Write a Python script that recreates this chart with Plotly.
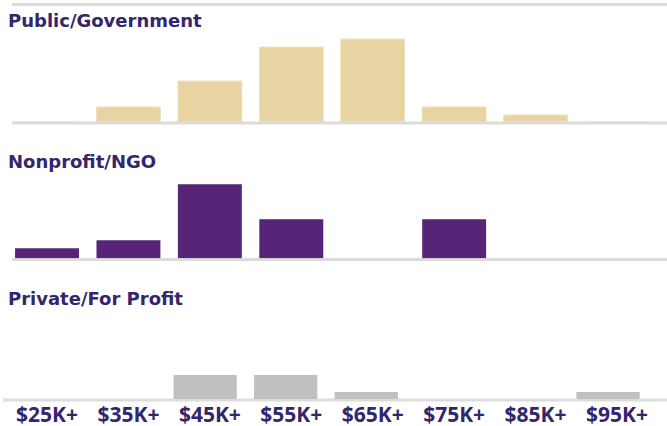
import plotly.graph_objects as go

categories = ["$25K+", "$35K+", "$45K+", "$55K+", "$65K+", "$75K+", "$85K+", "$95K+"]
public_gov = [0, 15, 41, 75, 83, 15, 7, 0]
nonprofit = [10, 18, 74, 39, 0, 39, 0, 0]
private = [0, 0, 24, 24, 7, 0, 0, 7]
panel_titles = ["Public/Government", "Nonprofit/NGO", "Private/For Profit"]

W, H = 667, 426
def py(p):
    return 1 - p / H

GOLD = "#e8d4a2"
PURPLE = "#562578"
GRAY = "#c0c0c0"
LINE = "#dcdcdc"
TEXT = "#33266b"
TITLE_FONT = "DejaVu Sans"
TICK_FONT = "Open Sans"

fig = go.Figure()
fig.add_bar(x=categories, y=public_gov, marker=dict(color=GOLD, line=dict(color="#f0e2bd", width=1)),
            xaxis="x", yaxis="y", hoverinfo="skip")
fig.add_bar(x=categories, y=nonprofit, marker=dict(color=PURPLE, line=dict(width=0)),
            xaxis="x2", yaxis="y2", hoverinfo="skip")
fig.add_bar(x=categories, y=private, marker=dict(color=GRAY, line=dict(width=0)),
            xaxis="x3", yaxis="y3", hoverinfo="skip")
# invisible trace carrying the category tick labels
fig.add_scatter(x=categories, y=[None] * len(categories), xaxis="x4", yaxis="y3",
                mode="markers", showlegend=False, hoverinfo="skip")

top_dom = [6.3 / W, 657.7 / W]
bot_dom = [3.7 / W, 648.3 / W]
hidden_x = dict(showgrid=False, zeroline=False, showline=False, showticklabels=False,
                ticks="", range=[-0.5, 7.5], type="category", fixedrange=True, automargin=False)
hidden_y = dict(showgrid=False, zeroline=False, showline=False, showticklabels=False, ticks="",
                fixedrange=True, automargin=False)

fig.update_layout(
    width=W, height=H,
    margin=dict(l=0, r=0, t=0, b=0, autoexpand=False),
    paper_bgcolor="white", plot_bgcolor="rgba(0,0,0,0)",
    showlegend=False, bargap=0.215,
    xaxis=dict(domain=top_dom, anchor="y", **hidden_x),
    xaxis2=dict(domain=top_dom, anchor="y2", **hidden_x),
    xaxis3=dict(domain=bot_dom, anchor="y3", **hidden_x),
    xaxis4=dict(domain=top_dom, anchor="y3", showgrid=False, zeroline=False, showline=False,
                ticks="", range=[-0.5, 7.5], type="category", fixedrange=True, automargin=False,
                tickfont=dict(family=TICK_FONT, size=21, color=TEXT, weight="bold"),
                ticklabelstandoff=1),
    yaxis=dict(domain=[py(122), py(30)], anchor="x", range=[0, 92], **hidden_y),
    yaxis2=dict(domain=[py(258.3), py(170)], anchor="x2", range=[0, 88.3], **hidden_y),
    yaxis3=dict(domain=[py(399), py(310)], anchor="x3", range=[0, 89], **hidden_y),
)

# separator / baseline rules
rules = [(12, 667, 4.5), (12, 667, 123), (12, 667, 259.5), (3, 667, 400)]
for x0, x1, yy in rules:
    fig.add_shape(type="line", xref="paper", yref="paper", x0=x0 / W, x1=x1 / W,
                  y0=py(yy), y1=py(yy), line=dict(color=LINE, width=3), layer="below")

for title, yy in zip(panel_titles, [20.5, 161.5, 298.5]):
    fig.add_annotation(text="<b>%s</b>" % title, xref="paper", yref="paper",
                       x=6 / W, y=py(yy), xanchor="left", yanchor="middle", showarrow=False,
                       font=dict(family=TITLE_FONT, size=18, color=TEXT))

fig.write_html("out.html", config={"displayModeBar": False},
               post_script="document.body.style.margin='0';document.body.style.overflow='hidden';")
